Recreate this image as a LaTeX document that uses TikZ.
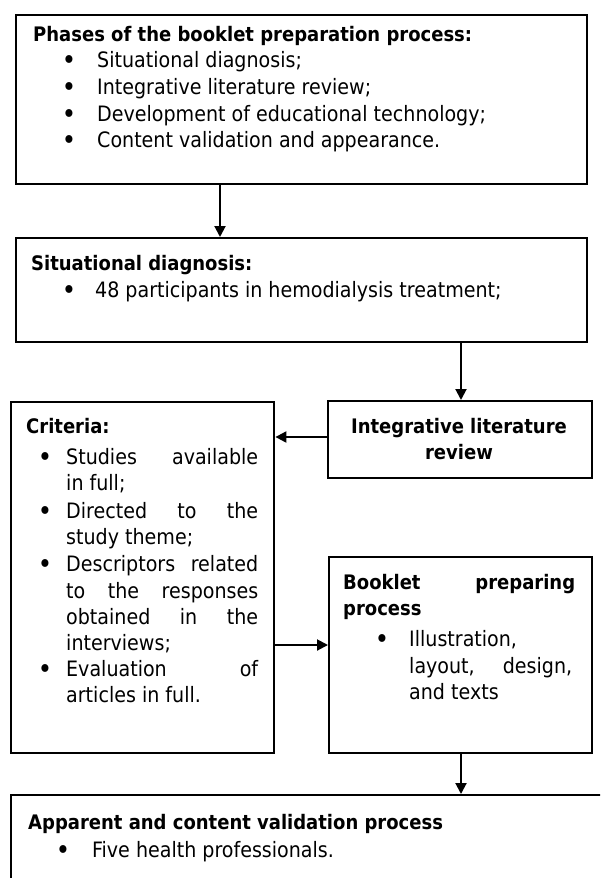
\documentclass[tikz,border=0pt]{standalone}
\usepackage{fontspec}
\setmainfont{DejaVu Sans Condensed}
\usetikzlibrary{arrows.meta}
\newcommand{\jline}[2]{\makebox[#1][s]{#2}}
\begin{document}
\begin{tikzpicture}[x=1pt,y=-1pt,
 box/.style={draw, line width=2.4pt, inner sep=0pt, anchor=north west},
 arr/.style={line width=2pt, -{Triangle[length=11pt,width=11pt]}},
 txt/.style={anchor=base west, inner sep=0pt, font=\fontsize{21.2}{24}\selectfont},
 btxt/.style={txt, font=\fontsize{20}{24}\selectfont\bfseries},
 ctxt/.style={anchor=base, inner sep=0pt, font=\fontsize{20}{24}\selectfont\bfseries},
 bul/.style={anchor=center, inner sep=0pt, yshift=4.5pt, font=\fontsize{27}{27}\selectfont}]
\clip (0,0) rectangle (600,878);
\fill[white] (0,0) rectangle (600,878);
% boxes
\node[box, minimum width=571pt, minimum height=169pt] (b1) at (15,14) {};
\node[box, minimum width=571pt, minimum height=104pt] (b2) at (15,237) {};
\node[box, minimum width=263pt, minimum height=351pt] (crit) at (10,401) {};
\node[box, minimum width=264pt, minimum height=77pt] (ilr) at (327,400) {};
\node[box, minimum width=263pt, minimum height=196pt] (book) at (328,556) {};
\node[box, minimum width=620pt, minimum height=120pt] (fin) at (10,794) {};
% helper coordinates
\coordinate (ax1) at (220,0);
\coordinate (ax2) at (461,0);
\coordinate (ay1) at (0,437);
\coordinate (ay2) at (0,645);
% connectors
\draw[arr] (b1.south -| ax1) -- (b2.north -| ax1);
\draw[arr] (b2.south -| ax2) -- (ilr.north -| ax2);
\draw[arr] (ilr.west |- ay1) -- (crit.east |- ay1);
\draw[arr] (crit.east |- ay2) -- (book.west |- ay2);
\draw[arr] (book.south -| ax2) -- (fin.north -| ax2);
% box 1 text
\node[btxt] (t1) at (33,41) {Phases of the booklet preparation process:};
\node[bul] (u11) at (69,67) {•};
\node[txt] (t11) at (97,67) {Situational diagnosis;};
\node[bul] (u12) at (69,94) {•};
\node[txt] (t12) at (97,94) {Integrative literature review;};
\node[bul] (u13) at (69,121) {•};
\node[txt] (t13) at (97,121) {Development of educational technology;};
\node[bul] (u14) at (69,147) {•};
\node[txt] (t14) at (97,147) {Content validation and appearance.};
% box 2 text
\node[btxt] (t2) at (31,270) {Situational diagnosis:};
\node[bul] (u21) at (69,297) {•};
\node[txt] (t21) at (95,297) {48 participants in hemodialysis treatment;};
% criteria text
\node[btxt] (t3) at (26,433) {Criteria:};
\node[bul] (u31) at (45,464) {•};
\node[txt] (t31) at (66,464) {\jline{192pt}{Studies available}};
\node[txt] (t32) at (66,490) {in full;};
\node[bul] (u33) at (45,518) {•};
\node[txt] (t33) at (66,518) {\jline{192pt}{Directed to the}};
\node[txt] (t34) at (66,544) {study theme;};
\node[bul] (u35) at (45,571) {•};
\node[txt] (t35) at (66,571) {\jline{192pt}{Descriptors related}};
\node[txt] (t36) at (66,598) {\jline{192pt}{to the responses}};
\node[txt] (t37) at (66,624) {\jline{192pt}{obtained in the}};
\node[txt] (t38) at (66,650) {interviews;};
\node[bul] (u39) at (45,676) {•};
\node[txt] (t39) at (66,676) {\jline{192pt}{Evaluation of}};
\node[txt] (t310) at (66,702) {articles in full.};
% ILR text
\node[ctxt] (t41) at (459,433) {Integrative literature};
\node[ctxt] (t42) at (459,459) {review};
% booklet text
\node[btxt] (t51) at (343,589) {\jline{232pt}{Booklet preparing}};
\node[btxt] (t52) at (343,615) {process};
\node[bul] (u53) at (382,646) {•};
\node[txt] (t53) at (409,646) {Illustration,};
\node[txt] (t54) at (409,673) {\jline{163pt}{layout, design,}};
\node[txt] (t55) at (409,699) {and texts};
% final text
\node[btxt] (t6) at (28,829) {Apparent and content validation process};
\node[bul] (u61) at (63,857) {•};
\node[txt] (t61) at (92,857) {Five health professionals.};
\end{tikzpicture}
\end{document}
